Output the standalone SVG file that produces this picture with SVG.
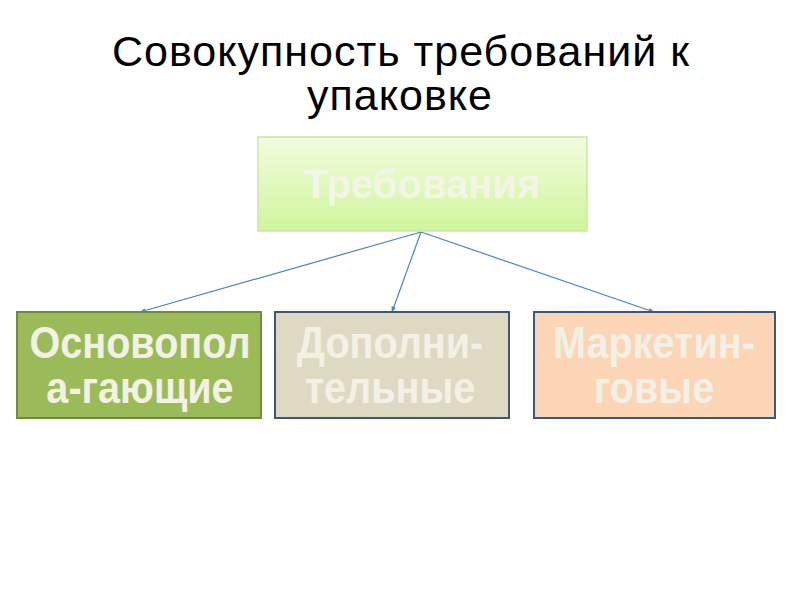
<svg xmlns="http://www.w3.org/2000/svg" width="800" height="600" viewBox="0 0 800 600">
<style>
.title{font-family:"Liberation Sans",Arial,sans-serif;font-size:43px;letter-spacing:1px;fill:#000;text-anchor:middle}
.lbl{font-family:"Liberation Sans",Arial,sans-serif;font-weight:bold;font-size:44px;fill:#f3f1e6;text-anchor:middle}
.top{font-family:"Liberation Sans",Arial,sans-serif;font-weight:bold;font-size:40px;fill:#f3f5e6;text-anchor:middle}
.conn{stroke:#4f81bd;stroke-width:1.2;fill:none;marker-end:url(#arr)}
</style>
<defs>
<linearGradient id="g1" x1="0" y1="0" x2="0" y2="1">
<stop offset="0" stop-color="#f3fce0"/>
<stop offset="1" stop-color="#cff59c"/>
</linearGradient>
<marker id="arr" viewBox="0 0 10 10" refX="9" refY="5" markerWidth="5" markerHeight="5" orient="auto">
<path d="M0,1 L10,5 L0,9 z" fill="#4f81bd"/>
</marker>
</defs>
<rect width="800" height="600" fill="#fff"/>
<text class="title" x="401" y="66">Совокупность требований к</text>
<text class="title" x="400" y="110">упаковке</text>
<g id="connectors">
<line class="conn" x1="421" y1="232" x2="140" y2="312"/>
<line class="conn" x1="421" y1="232" x2="392" y2="312"/>
<line class="conn" x1="421" y1="232" x2="654" y2="312"/>
</g>
<g id="node-top">
<rect x="258" y="137" width="329" height="94" fill="url(#g1)" stroke="#c9e6a6" stroke-width="1.5"/>
<text class="top" x="422" y="198">Требования</text>
</g>
<g id="node-1">
<rect x="17" y="312" width="244" height="106" fill="#9bbb59" stroke="#71893f" stroke-width="2"/>
<g transform="translate(140,0) scale(0.9,1)">
<text class="lbl" x="0" y="358">Основопол</text>
<text class="lbl" x="0" y="403">а-гающие</text>
</g>
</g>
<g id="node-2">
<rect x="275" y="312" width="234" height="106" fill="#ddd9c3" stroke="#3b5681" stroke-width="2"/>
<g transform="translate(390,0) scale(0.9,1)">
<text class="lbl" x="0" y="358">Дополни-</text>
<text class="lbl" x="0" y="403">тельные</text>
</g>
</g>
<g id="node-3">
<rect x="534" y="312" width="241" height="106" fill="#fbd5b5" stroke="#3b5681" stroke-width="2"/>
<g transform="translate(654,0) scale(0.9,1)">
<text class="lbl" x="0" y="358">Маркетин-</text>
<text class="lbl" x="0" y="403">говые</text>
</g>
</g>
</svg>
